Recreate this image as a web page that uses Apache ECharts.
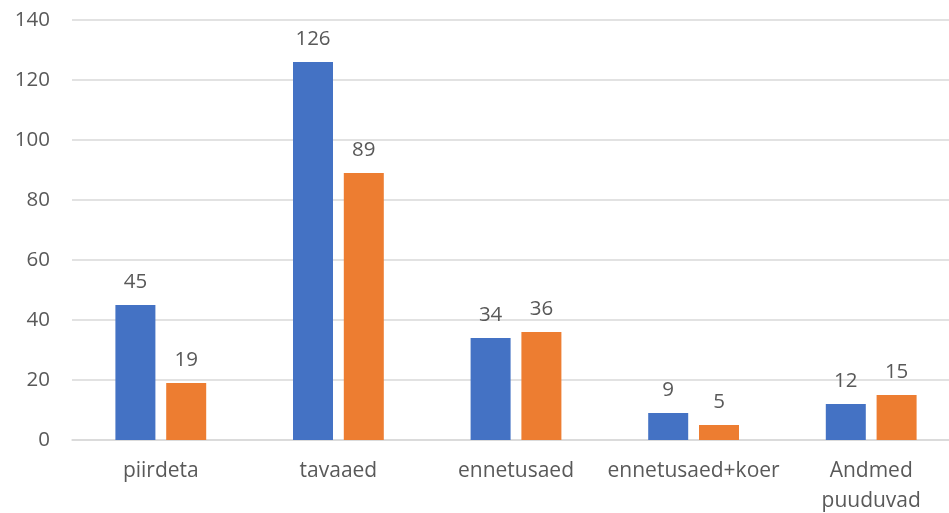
<!DOCTYPE html>
<html><head><meta charset="utf-8">
<script src="https://cdn.jsdelivr.net/npm/echarts@6/dist/echarts.min.js"></script>
<style>html,body{margin:0;padding:0;background:#fff}#c{width:949px;height:513px}</style>
</head><body><div id="c"></div>
<script>
const categories = ['piirdeta', 'tavaaed', 'ennetusaed', 'ennetusaed+koer', 'Andmed\npuuduvad'];
const seriesA = [45, 126, 34, 9, 12];
const seriesB = [19, 89, 36, 5, 15];
const yTicks = {min: 0, max: 140, interval: 20};

const font = 'Open Sans';
const txt = '#595959';
const chart = echarts.init(document.getElementById('c'), null, {renderer: 'canvas'});
const label = {show: true, position: 'top', distance: 12, color: txt, fontFamily: font, fontSize: 20.5};
chart.setOption({
  animation: false,
  grid: {left: 72, right: -11, top: 20, bottom: 73, containLabel: false, outerBoundsMode: 'none'},
  xAxis: {
    type: 'category', data: categories,
    axisLine: {lineStyle: {color: '#D9D9D9', width: 1.5}},
    axisTick: {show: false},
    axisLabel: {interval: 0, color: txt, fontFamily: font, fontSize: 21, margin: 16, lineHeight: 30, verticalAlign: 'top'}
  },
  yAxis: {
    type: 'value', min: yTicks.min, max: yTicks.max, interval: yTicks.interval,
    axisLine: {show: false}, axisTick: {show: false},
    splitLine: {lineStyle: {color: '#D9D9D9', width: 1.5}},
    axisLabel: {color: txt, fontFamily: font, fontSize: 20.5, margin: 22}
  },
  series: [
    {type: 'bar', name: 'A', data: seriesA, barWidth: 40, barGap: '27%', itemStyle: {color: '#4472C4'}, label: label},
    {type: 'bar', name: 'B', data: seriesB, barWidth: 40, itemStyle: {color: '#ED7D31'}, label: label}
  ]
});
</script></body></html>
